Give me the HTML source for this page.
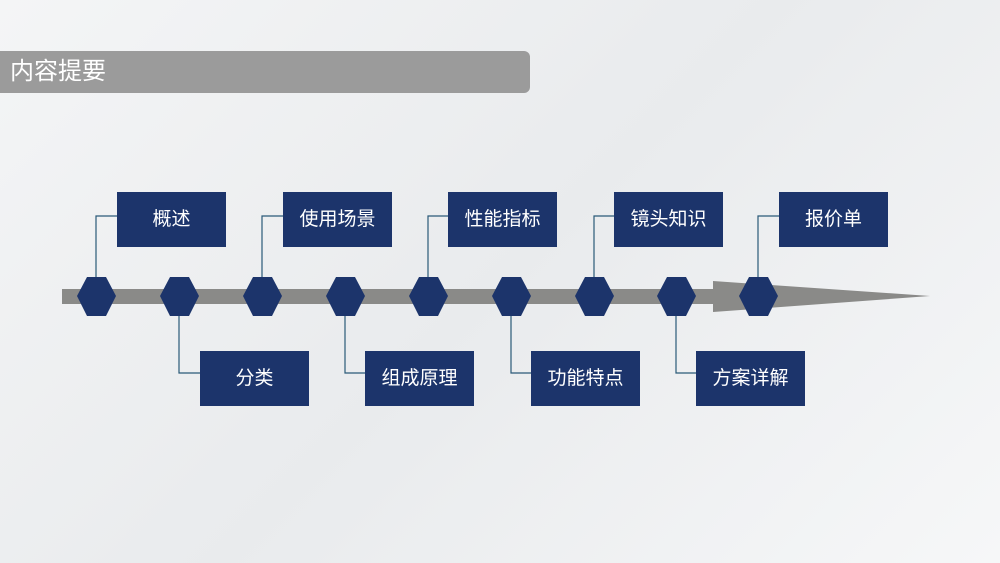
<!DOCTYPE html>
<html><head><meta charset="utf-8"><style>
body{margin:0;width:1000px;height:563px;overflow:hidden;background:linear-gradient(135deg,#f4f5f6,#e9ebed 50%,#f6f7f8);font-family:"Liberation Sans","Noto Sans CJK SC",sans-serif;position:relative}
.t{position:absolute;left:0;top:51px;width:530px;height:42px;background:#9b9b9b;border-radius:0 6px 6px 0;color:#fff;font-size:24px;line-height:42px;padding-left:10px;box-sizing:border-box}
.b{position:absolute;width:109px;height:55px;background:#1c346b;color:#fff;font-size:19px;text-align:center;line-height:55px}
</style></head><body>
<div class="t">内容提要</div>
<svg width="1000" height="563" style="position:absolute;left:0;top:0">
<rect x="62" y="289" width="652" height="15" fill="#8a8a88"/>
<polygon points="713,281 930,296 713,312" fill="#8a8a88"/>
<g stroke="#2a5a78" stroke-width="1.2" fill="none">
<polyline points="96,277 96,216 117,216"/>
<polyline points="262,277 262,216 283,216"/>
<polyline points="428,277 428,216 448,216"/>
<polyline points="594,277 594,216 614,216"/>
<polyline points="758,277 758,216 779,216"/>
<polyline points="179,316 179,373 200,373"/>
<polyline points="345,316 345,373 365,373"/>
<polyline points="511,316 511,373 531,373"/>
<polyline points="676,316 676,373 696,373"/>
</g>
<g fill="#1c346b">
<polygon points="77,296 87,277 106,277 116,296 106,316 87,316"/>
<polygon points="160,296 170,277 189,277 199,296 189,316 170,316"/>
<polygon points="243,296 253,277 272,277 282,296 272,316 253,316"/>
<polygon points="326,296 336,277 355,277 365,296 355,316 336,316"/>
<polygon points="409,296 419,277 438,277 448,296 438,316 419,316"/>
<polygon points="492,296 502,277 521,277 531,296 521,316 502,316"/>
<polygon points="575,296 585,277 604,277 614,296 604,316 585,316"/>
<polygon points="657,296 667,277 686,277 696,296 686,316 667,316"/>
<polygon points="739,296 749,277 768,277 778,296 768,316 749,316"/>
</g>
</svg>
<div class="b" style="left:117px;top:192px">概述</div>
<div class="b" style="left:283px;top:192px">使用场景</div>
<div class="b" style="left:448px;top:192px">性能指标</div>
<div class="b" style="left:614px;top:192px">镜头知识</div>
<div class="b" style="left:779px;top:192px">报价单</div>
<div class="b" style="left:200px;top:351px">分类</div>
<div class="b" style="left:365px;top:351px">组成原理</div>
<div class="b" style="left:531px;top:351px">功能特点</div>
<div class="b" style="left:696px;top:351px">方案详解</div>
</body></html>
